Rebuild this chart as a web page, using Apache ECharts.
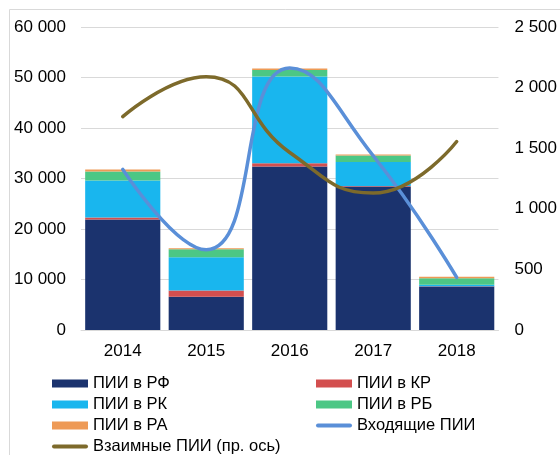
<!DOCTYPE html>
<html>
<head>
<meta charset="utf-8">
<script src="https://cdn.jsdelivr.net/npm/echarts@6/dist/echarts.min.js"></script>
<style>
  html, body { margin: 0; padding: 0; background: #fff; }
  #chart { width: 560px; height: 455px; }
</style>
</head>
<body>
<div id="chart"></div>
<script>
// годы
var years = ['2014', '2015', '2016', '2017', '2018'];
// ПИИ по странам (левая ось)
var piiRF = [21900, 6600, 32400, 28400, 8600];
var piiKR = [400, 1200, 600, 100, 50];
var piiRK = [7300, 6600, 17200, 4750, 300];
var piiRB = [1800, 1600, 1300, 1300, 1300];
var piiRA = [400, 200, 300, 200, 300];
// линии
var incoming = [31800, 15900, 51900, 34500, 10400];
var mutual = [1760, 2090, 1465, 1130, 1555];

var font = 'Liberation Sans, Arial, sans-serif';
// иконка-линия для легенды (скругленные концы)
var lineIcon = 'path://M0,0M36,8M2,2L34,2A2,2,0,0,1,34,6L2,6A2,2,0,0,1,2,2Z';

var myChart = echarts.init(document.getElementById('chart'));

function barSeries(name, data, color) {
  return {
    name: name,
    type: 'bar',
    stack: 'pii',
    barCategoryGap: '10%',
    data: data,
    itemStyle: { color: color }
  };
}

var legendText = { fontFamily: font, fontSize: 16.5, color: '#000', lineHeight: 16 };

myChart.setOption({
  animation: false,
  graphic: [{
    type: 'rect',
    shape: { x: 9.5, y: 9.5, width: 600, height: 500 },
    style: { fill: 'none', stroke: '#d9d9d9', lineWidth: 1 },
    silent: true
  }],
  grid: { left: 81, right: 59, top: 27, bottom: 125 },
  legend: [
    {
      orient: 'vertical', left: 52, top: 375, padding: 0, itemGap: 4,
      itemWidth: 36, itemHeight: 8, textStyle: legendText,
      data: [
        { name: 'ПИИ в РФ', icon: 'rect' },
        { name: 'ПИИ в РК', icon: 'rect' },
        { name: 'ПИИ в РА', icon: 'rect' },
        { name: 'Взаимные ПИИ (пр. ось)', icon: lineIcon }
      ]
    },
    {
      orient: 'vertical', left: 316, top: 375, padding: 0, itemGap: 4,
      itemWidth: 36, itemHeight: 8, textStyle: legendText,
      data: [
        { name: 'ПИИ в КР', icon: 'rect' },
        { name: 'ПИИ в РБ', icon: 'rect' },
        { name: 'Входящие ПИИ', icon: lineIcon }
      ]
    }
  ],
  xAxis: {
    type: 'category',
    data: years,
    axisTick: { show: false },
    axisLine: { lineStyle: { color: '#d9d9d9' } },
    axisLabel: { fontFamily: font, fontSize: 17, color: '#000', margin: 13 }
  },
  yAxis: [
    {
      type: 'value',
      min: 0, max: 60000, interval: 10000,
      axisLabel: {
        fontFamily: font, fontSize: 17, color: '#000', margin: 15,
        formatter: function (v) { return v === 0 ? '0' : (v / 1000) + ' 000'; }
      },
      splitLine: { lineStyle: { color: '#d9d9d9' } }
    },
    {
      type: 'value',
      min: 0, max: 2500, interval: 500,
      axisLabel: {
        fontFamily: font, fontSize: 17, color: '#000', margin: 16,
        formatter: function (v) {
          return v >= 1000 ? Math.floor(v / 1000) + ' ' + String(v % 1000).padStart(3, '0') : String(v);
        }
      },
      splitLine: { show: false }
    }
  ],
  series: [
    barSeries('ПИИ в РФ', piiRF, '#1b336e'),
    barSeries('ПИИ в КР', piiKR, '#d34f4f'),
    barSeries('ПИИ в РК', piiRK, '#19b6ee'),
    barSeries('ПИИ в РБ', piiRB, '#4cc785'),
    barSeries('ПИИ в РА', piiRA, '#ee9a56'),
    {
      name: 'Входящие ПИИ',
      type: 'line',
      smooth: 0.5,
      symbol: 'none',
      data: incoming,
      itemStyle: { color: '#5a8fd8' },
      lineStyle: { color: '#5a8fd8', width: 3.5, cap: 'round' }
    },
    {
      name: 'Взаимные ПИИ (пр. ось)',
      type: 'line',
      yAxisIndex: 1,
      smooth: 0.5,
      symbol: 'none',
      data: mutual,
      itemStyle: { color: '#7d6a2b' },
      lineStyle: { color: '#7d6a2b', width: 3.5, cap: 'round' }
    }
  ]
});
</script>
</body>
</html>
